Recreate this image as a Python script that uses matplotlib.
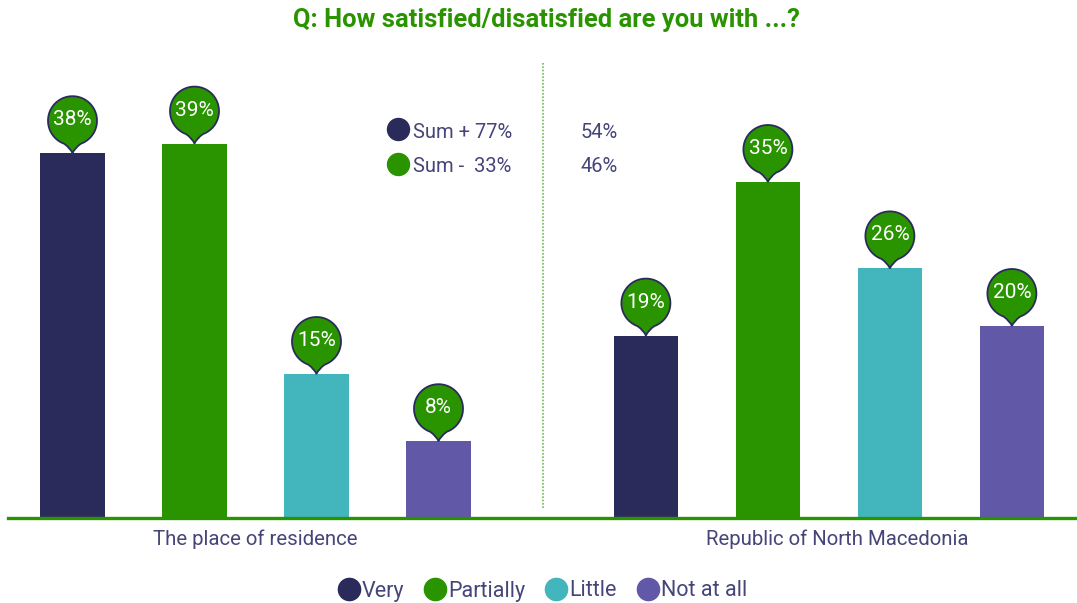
import matplotlib
matplotlib.use("Agg")
import matplotlib.pyplot as plt
from matplotlib.path import Path
from matplotlib.patches import PathPatch
from matplotlib.lines import Line2D
import matplotlib.transforms as mtransforms
import numpy as np

# ---- data ----
levels = ["Very", "Partially", "Little", "Not at all"]
places = ["The place of residence", "Republic of North Macedonia"]
residence = [38, 39, 15, 8]
country = [19, 35, 26, 20]
sum_plus = [77, 54]
sum_minus = [33, 46]
title = "Q: How satisfied/disatisfied are you with ...?"

# ---- style ----
colors = ["#2b2b5b", "#299400", "#43b5bc", "#6159a7"]
green = "#299400"
text_col = "#45457a"
font = ["Roboto", "DejaVu Sans"]

W, H, DPI = 1077, 603, 100
fig = plt.figure(figsize=(W / DPI, H / DPI), dpi=DPI)

# main axes: baseline 85 px from bottom, 9.6 px per percentage point
px_per_unit = 122.0
x0_px = 72.5
ax_left, ax_right = 8, 1077
ax_bottom, ax_top = 85, 603 - 60
ax = fig.add_axes([ax_left / W, ax_bottom / H, (ax_right - ax_left) / W, (ax_top - ax_bottom) / H])
ax.set_xlim((ax_left - x0_px) / px_per_unit, (ax_right - x0_px) / px_per_unit)
ax.set_ylim(0, (ax_top - ax_bottom) / 9.6)
ax.axis("off")

groups = [residence, country]
offsets = [0.0, 4.7]
label_shift = [0.0, 0.07]
bar_w = 0.53

def bubble_path(r=24.5, cy=32.5, half_ang=20.0):
    a = np.deg2rad(half_ang)
    start = np.deg2rad(-90) + a
    end = np.deg2rad(270) - a
    t = np.linspace(start, end, 90)
    circ = np.column_stack([r * np.cos(t), cy + r * np.sin(t)])
    verts = [(0.0, 0.0)]
    codes = [Path.MOVETO]
    # concave side up to the circle
    verts += [(2.0, 5.0), tuple(circ[0])]
    codes += [Path.CURVE3, Path.CURVE3]
    for p in circ[1:]:
        verts.append(tuple(p))
        codes.append(Path.LINETO)
    verts += [(-2.0, 5.0), (0.0, 0.0)]
    codes += [Path.CURVE3, Path.CURVE3]
    verts.append((0.0, 0.0))
    codes.append(Path.CLOSEPOLY)
    return Path(verts, codes), cy

bpath, bcy = bubble_path()

for g, (vals, off) in enumerate(zip(groups, offsets)):
    xs = np.arange(len(vals)) + off
    ax.bar(xs, vals, width=bar_w, color=colors, zorder=2)
    for x, v in zip(xs, vals):
        tr = mtransforms.Affine2D().scale(DPI / 100.0) + mtransforms.ScaledTranslation(x, v, ax.transData)
        patch = PathPatch(bpath, transform=tr, facecolor=green, edgecolor="#2b2b5b",
                          lw=1.3, zorder=4, clip_on=False)
        ax.add_patch(patch)
        label_tr = mtransforms.offset_copy(ax.transData, fig=fig, x=0, y=(bcy + 1) * 72.0 / DPI, units="points")
        ax.text(x, v, f"{v}%", transform=label_tr, ha="center", va="center",
                color="white", fontsize=15, family=font, zorder=5)
    ax.text(xs.mean() + label_shift[g], 0, places[g],
            transform=mtransforms.offset_copy(ax.transData, fig=fig, x=0, y=-21 * 72.0 / DPI, units="points"),
            ha="center", va="center", color=text_col, fontsize=14.7, family=font)

# baseline
ax.axhline(0, color=green, lw=2.4, zorder=3, clip_on=False)

# dotted divider between the two groups
div_x = (543 - x0_px) / px_per_unit
ax.plot([div_x, div_x], [1.0, 47.4], color="#6cc04a", lw=1.2, ls=(0, (1, 1)), zorder=1)

# overlay in pixel coordinates for title and summary
ov = fig.add_axes([0, 0, 1, 1], facecolor="none")
ov.set_xlim(0, W)
ov.set_ylim(H, 0)
ov.axis("off")

ov.text(546, 20, title, ha="center", va="center", color=green, fontsize=18.4,
        fontweight="bold", family=font)

sum_rows = [("Sum + ", sum_plus, colors[0], 129), ("Sum -  ", sum_minus, colors[1], 164)]
for lab, vals, c, y in sum_rows:
    ov.scatter([398], [y], s=(22 * 72 / DPI) ** 2, color=c, zorder=3)
    ov.text(413, y + 3, f"{lab}{vals[0]}%", ha="left", va="center", color=text_col,
            fontsize=14.5, family=font)
    ov.text(618, y + 3, f"{vals[1]}%", ha="right", va="center", color=text_col,
            fontsize=14.5, family=font)

# legend for the four levels
handles = [Line2D([0], [0], marker="o", ls="none", markersize=16, markerfacecolor=c,
                  markeredgecolor=c) for c in colors]
fig.legend(handles, levels, loc="center", bbox_to_anchor=(543 / W, 1 - 591 / H), ncol=4,
           frameon=False, handlelength=0.9, handletextpad=0.15, columnspacing=1.0,
           prop={"family": font, "size": 15.5}, labelcolor=text_col)

fig.savefig("out.png", dpi=DPI)
